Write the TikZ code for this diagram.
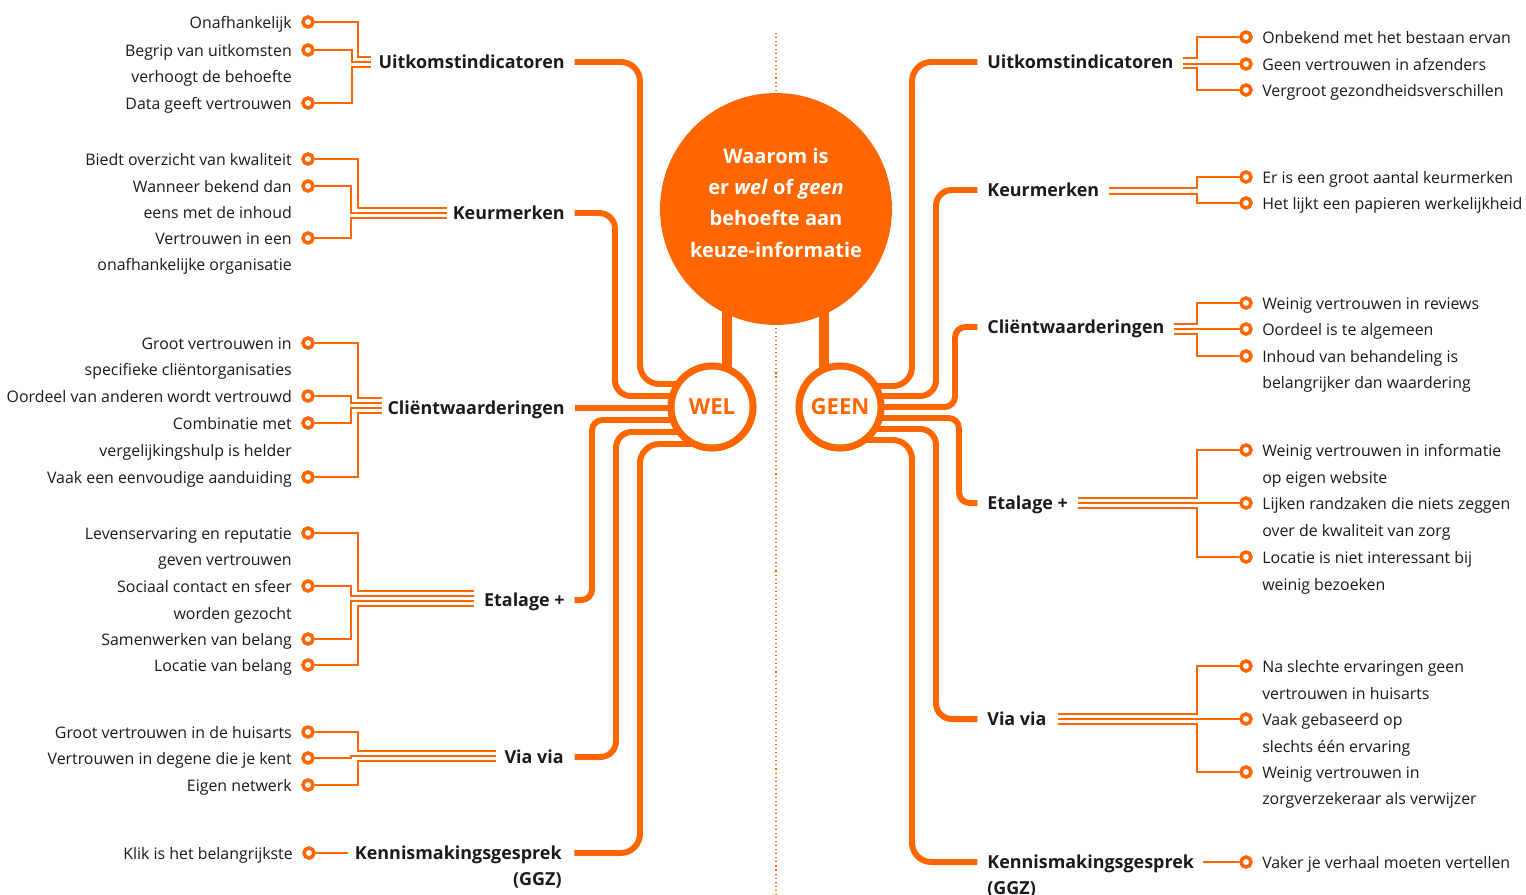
\documentclass[tikz,border=0pt]{standalone}
\usepackage{fontspec}
\setmainfont{Open Sans}
\usepackage{tikz}
\usetikzlibrary{backgrounds}
\definecolor{oranje}{HTML}{FF6600}
\definecolor{donker}{HTML}{1A1A1A}

\begin{document}
\begin{tikzpicture}[x=0.02cm, y=-0.02cm,
        draad/.style={draw=oranje, line width=1.5pt},
        tak/.style={draw=oranje, line width=3.4pt, rounded corners=9pt},
        poot/.style={draw=oranje, line width=5.7pt},
        stippel/.style={draw=oranje, line width=0.6pt, dash pattern=on 0.6pt off 1.7pt},
        knop/.style={circle, draw=oranje, fill=white, line width=2pt, minimum size=5.7pt, inner sep=0pt},
        tekst/.style={inner sep=0pt, text=donker, font=\fontsize{9.05}{15.1}\selectfont, yshift=3.4pt},
        tekstL/.style={tekst, anchor=north east, align=right, xshift=-5.2pt},
        tekstR/.style={tekst, anchor=north west, align=left, xshift=5.2pt},
        kop/.style={inner sep=0pt, text=donker, font=\fontsize{10.2}{12}\selectfont\bfseries, text height=8.8pt, text depth=1.5pt},
        bol/.style={circle, draw=oranje, fill=white, line width=4pt, minimum size=46.7pt, inner sep=0pt, text=oranje, font=\fontsize{12.6}{15}\selectfont\bfseries}]
    \useasboundingbox (0,0) rectangle (1526,894);

    \node[circle, fill=oranje, minimum size=132pt, inner sep=0pt] (vraag) at (776,209) {};
    \node[align=center, inner sep=0pt, text=white, font=\fontsize{11.4}{17.9}\selectfont\bfseries] (vraagtekst) at ([yshift=3.6pt]vraag.center) {Waarom is\\er \textit{wel} of \textit{geen}\\behoefte aan\\keuze-informatie};
    \node[bol] (wel) at (712,407) {WEL};
    \node[bol] (geen) at (840,407) {GEEN};

    \node[kop, anchor=east] (lu) at (565,62) {Uitkomstindicatoren};
    \node[kop, anchor=east] (lk) at (565,213) {Keurmerken};
    \node[kop, anchor=east] (lc) at (565,408) {Cliëntwaarderingen};
    \node[kop, anchor=east] (le) at (565,600) {Etalage +};
    \node[kop, anchor=east] (lv) at (564,757) {Via via};
    \node[kop, anchor=east] (ln) at (562,853) {Kennismakingsgesprek};
    \node[kop, anchor=north east, yshift=-4.3pt] (lng) at (ln.south east) {(GGZ)};

    \node[kop, anchor=west] (ru) at (987,62) {Uitkomstindicatoren};
    \node[kop, anchor=west] (rk) at (987,190) {Keurmerken};
    \node[kop, anchor=west] (rc) at (987,327) {Cliëntwaarderingen};
    \node[kop, anchor=west] (re) at (987,503) {Etalage +};
    \node[kop, anchor=west] (rv) at (987,719) {Via via};
    \node[kop, anchor=west] (rn) at (987,862) {Kennismakingsgesprek};
    \node[kop, anchor=north west, yshift=-4.3pt] (rng) at (rn.south west) {(GGZ)};

    \node[knop] (lu1) at (308,22) {};
    \node[tekstL] (lu1t) at (lu1.west) {Onafhankelijk};
    \node[knop] (lu2) at (308,50) {};
    \node[tekstL] (lu2t) at (lu2.west) {Begrip van uitkomsten\\verhoogt de behoefte};
    \node[knop] (lu3) at (308,103) {};
    \node[tekstL] (lu3t) at (lu3.west) {Data geeft vertrouwen};
    \node[knop] (lk1) at (308,159) {};
    \node[tekstL] (lk1t) at (lk1.west) {Biedt overzicht van kwaliteit};
    \node[knop] (lk2) at (308,186) {};
    \node[tekstL] (lk2t) at (lk2.west) {Wanneer bekend dan\\eens met de inhoud};
    \node[knop] (lk3) at (308,238) {};
    \node[tekstL] (lk3t) at (lk3.west) {Vertrouwen in een\\onafhankelijke organisatie};
    \node[knop] (lc1) at (308,343) {};
    \node[tekstL] (lc1t) at (lc1.west) {Groot vertrouwen in\\specifieke cliëntorganisaties};
    \node[knop] (lc2) at (308,396) {};
    \node[tekstL] (lc2t) at (lc2.west) {Oordeel van anderen wordt vertrouwd};
    \node[knop] (lc3) at (308,423) {};
    \node[tekstL] (lc3t) at (lc3.west) {Combinatie met\\vergelijkingshulp is helder};
    \node[knop] (lc4) at (308,477) {};
    \node[tekstL] (lc4t) at (lc4.west) {Vaak een eenvoudige aanduiding};
    \node[knop] (le1) at (308,533) {};
    \node[tekstL] (le1t) at (le1.west) {Levenservaring en reputatie\\geven vertrouwen};
    \node[knop] (le2) at (308,586) {};
    \node[tekstL] (le2t) at (le2.west) {Sociaal contact en sfeer\\worden gezocht};
    \node[knop] (le3) at (308,639) {};
    \node[tekstL] (le3t) at (le3.west) {Samenwerken van belang};
    \node[knop] (le4) at (308,665) {};
    \node[tekstL] (le4t) at (le4.west) {Locatie van belang};
    \node[knop] (lv1) at (308,732) {};
    \node[tekstL] (lv1t) at (lv1.west) {Groot vertrouwen in de huisarts};
    \node[knop] (lv2) at (308,758) {};
    \node[tekstL] (lv2t) at (lv2.west) {Vertrouwen in degene die je kent};
    \node[knop] (lv3) at (308,785) {};
    \node[tekstL] (lv3t) at (lv3.west) {Eigen netwerk};
    \node[knop] (ln1) at (309,853) {};
    \node[tekstL] (ln1t) at (ln1.west) {Klik is het belangrijkste};

    \node[knop] (ru1) at (1246,37) {};
    \node[tekstR] (ru1t) at (ru1.east) {Onbekend met het bestaan ervan};
    \node[knop] (ru2) at (1246,64) {};
    \node[tekstR] (ru2t) at (ru2.east) {Geen vertrouwen in afzenders};
    \node[knop] (ru3) at (1246,90) {};
    \node[tekstR] (ru3t) at (ru3.east) {Vergroot gezondheidsverschillen};
    \node[knop] (rk1) at (1246,177) {};
    \node[tekstR] (rk1t) at (rk1.east) {Er is een groot aantal keurmerken};
    \node[knop] (rk2) at (1246,203) {};
    \node[tekstR] (rk2t) at (rk2.east) {Het lijkt een papieren werkelijkheid};
    \node[knop] (rc1) at (1246,303) {};
    \node[tekstR] (rc1t) at (rc1.east) {Weinig vertrouwen in reviews};
    \node[knop] (rc2) at (1246,329) {};
    \node[tekstR] (rc2t) at (rc2.east) {Oordeel is te algemeen};
    \node[knop] (rc3) at (1246,356) {};
    \node[tekstR] (rc3t) at (rc3.east) {Inhoud van behandeling is\\belangrijker dan waardering};
    \node[knop] (re1) at (1246,450) {};
    \node[tekstR] (re1t) at (re1.east) {Weinig vertrouwen in informatie\\op eigen website};
    \node[knop] (re2) at (1246,503) {};
    \node[tekstR] (re2t) at (re2.east) {Lijken randzaken die niets zeggen\\over de kwaliteit van zorg};
    \node[knop] (re3) at (1246,557) {};
    \node[tekstR] (re3t) at (re3.east) {Locatie is niet interessant bij\\weinig bezoeken};
    \node[knop] (rv1) at (1246,666) {};
    \node[tekstR] (rv1t) at (rv1.east) {Na slechte ervaringen geen\\vertrouwen in huisarts};
    \node[knop] (rv2) at (1246,719) {};
    \node[tekstR] (rv2t) at (rv2.east) {Vaak gebaseerd op\\slechts één ervaring};
    \node[knop] (rv3) at (1246,772) {};
    \node[tekstR] (rv3t) at (rv3.east) {Weinig vertrouwen in\\zorgverzekeraar als verwijzer};
    \node[knop] (rn1) at (1246,862) {};
    \node[tekstR] (rn1t) at (rn1.east) {Vaker je verhaal moeten vertellen};

    \coordinate (lub) at ([xshift=-4pt]lu.west);
    \coordinate (lkb) at ([xshift=-3pt]lk.west);
    \coordinate (lcb) at ([xshift=-3pt]lc.west);
    \coordinate (leb) at ([xshift=-5.5pt]le.west);
    \coordinate (lvb) at ([xshift=-4.5pt]lv.west);
    \coordinate (lnb) at ([xshift=-3.5pt]ln.west);
    \coordinate (rub) at ([xshift=5.5pt]ru.east);
    \coordinate (rkb) at ([xshift=5.5pt]rk.east);
    \coordinate (rcb) at ([xshift=5pt]rc.east);
    \coordinate (reb) at ([xshift=5.5pt]re.east);
    \coordinate (rvb) at ([xshift=6.5pt]rv.east);
    \coordinate (rnb) at ([xshift=5pt]rn.east);

    \begin{scope}[on background layer]
        \path[stippel] (776,33) -- (776,894);
        \path[poot] (wel.center) ++(15,0) -- ++(0,-150);
        \path[poot] (geen.center) ++(-16,0) -- ++(0,-150);

        \draw[tak, rounded corners=11pt] ([xshift=5.5pt]lu.east) -| (640,384) -- (wel.center |- 0,384);
        \draw[tak] ([xshift=5.5pt]lk.east) -| (615,396) -- (wel.center |- 0,396);
        \draw[tak] ([xshift=5.5pt]lc.east) -- (wel.center |- lc.east);
        \draw[tak, rounded corners=6pt] ([xshift=5.5pt]le.east) -| (592,420) -- (wel.center |- 0,420);
        \draw[tak] ([xshift=6pt]lv.east) -| (616,432) -- (wel.center |- 0,432);
        \draw[tak, rounded corners=11pt] ([xshift=7pt]ln.east) -| (640,444) -- (wel.center |- 0,444);

        \draw[tak, rounded corners=11pt] (geen.center |- 0,386) -| (912,62) -- ([xshift=-5.5pt]ru.west);
        \draw[tak] (geen.center |- 0,396) -| (936,190) -- ([xshift=-5.5pt]rk.west);
        \draw[tak, rounded corners=6pt] (geen.center |- 0,407) -| (955,327) -- ([xshift=-5.5pt]rc.west);
        \draw[tak, rounded corners=6pt] (geen.center |- 0,418) -| (959,503) -- ([xshift=-5.5pt]re.west);
        \draw[tak] (geen.center |- 0,429) -| (936,719) -- ([xshift=-5.5pt]rv.west);
        \draw[tak, rounded corners=11pt] (geen.center |- 0,440) -| (912,862) -- ([xshift=-5.5pt]rn.west);
    \end{scope}

    \draw[draad] (lu1) -| (358,57) -- (lub |- 0,57);
    \draw[draad] (lu2) -| (352,62) -- (lub |- 0,62);
    \draw[draad] (lu3) -| (352,67) -- (lub |- 0,67);
    \draw[draad] (lk1) -| (358,208) -- (lkb |- 0,208);
    \draw[draad] (lk2) -| (351,213) -- (lkb |- 0,213);
    \draw[draad] (lk3) -| (351,218) -- (lkb |- 0,218);
    \draw[draad] (lc1) -| (358,398) -- (lcb |- 0,398);
    \draw[draad] (lc2) -| (351,403) -- (lcb |- 0,403);
    \draw[draad] (lc3) -| (351,408) -- (lcb |- 0,408);
    \draw[draad] (lc4) -| (358,413) -- (lcb |- 0,413);
    \draw[draad] (le1) -| (358,591) -- (leb |- 0,591);
    \draw[draad] (le2) -| (351,596) -- (leb |- 0,596);
    \draw[draad] (le3) -| (351,601) -- (leb |- 0,601);
    \draw[draad] (le4) -| (358,606) -- (leb |- 0,606);
    \draw[draad] (lv1) -| (358,751) -- (lvb |- 0,751);
    \draw[draad] (lv2) -| (351,756) -- (lvb |- 0,756);
    \draw[draad] (lv3) -| (358,761) -- (lvb |- 0,761);
    \draw[draad] (ln1) -- (lnb |- ln1);

    \draw[draad] (ru1) -| (1197,58) -- (rub |- 0,58);
    \draw[draad] (ru2) -- (rub |- ru2);
    \draw[draad] (ru3) -| (1197,68) -- (rub |- 0,68);
    \draw[draad] (rk1) -| (1197,188) -- (rkb |- 0,188);
    \draw[draad] (rk2) -| (1197,194) -- (rkb |- 0,194);
    \draw[draad] (rc1) -| (1197,324) -- (rcb |- 0,324);
    \draw[draad] (rc2) -- (rcb |- rc2);
    \draw[draad] (rc3) -| (1197,334) -- (rcb |- 0,334);
    \draw[draad] (re1) -| (1197,498) -- (reb |- 0,498);
    \draw[draad] (re2) -- (reb |- re2);
    \draw[draad] (re3) -| (1197,508) -- (reb |- 0,508);
    \draw[draad] (rv1) -| (1197,714) -- (rvb |- 0,714);
    \draw[draad] (rv2) -- (rvb |- rv2);
    \draw[draad] (rv3) -| (1197,724) -- (rvb |- 0,724);
    \draw[draad] (rn1) -- (rnb |- rn1);
\end{tikzpicture}
\end{document}
